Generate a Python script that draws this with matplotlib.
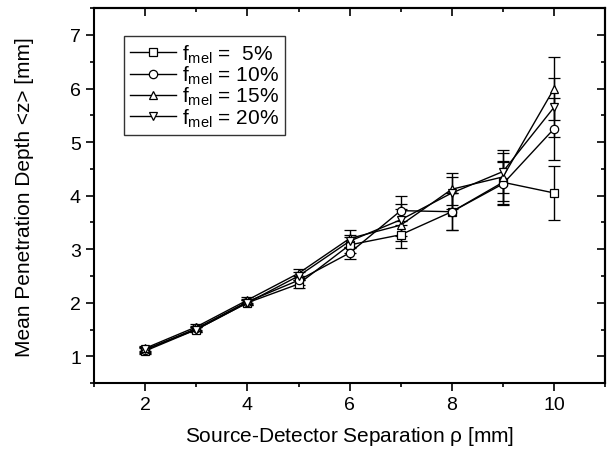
import matplotlib
matplotlib.use('Agg')
import matplotlib.pyplot as plt
from matplotlib.ticker import MultipleLocator

plt.rcParams['font.family'] = ['Liberation Sans', 'DejaVu Sans']
plt.rcParams['mathtext.fontset'] = 'custom'
plt.rcParams['mathtext.rm'] = 'Liberation Sans'
plt.rcParams['mathtext.it'] = 'Liberation Sans'

rho = [2, 3, 4, 5, 6, 7, 8, 9, 10]

depth_5 = [1.10, 1.50, 2.00, 2.35, 3.08, 3.27, 3.70, 4.25, 4.05]
depth_10 = [1.12, 1.52, 2.02, 2.42, 2.93, 3.72, 3.70, 4.22, 5.25]
depth_15 = [1.15, 1.55, 2.05, 2.55, 3.20, 3.45, 4.12, 4.35, 6.00]
depth_20 = [1.13, 1.50, 2.00, 2.50, 3.15, 3.55, 4.05, 4.45, 5.65]

err_5 = [0.05, 0.05, 0.05, 0.08, 0.15, 0.25, 0.35, 0.40, 0.50]
err_10 = [0.05, 0.05, 0.05, 0.08, 0.12, 0.27, 0.35, 0.40, 0.58]
err_15 = [0.05, 0.05, 0.05, 0.08, 0.15, 0.30, 0.30, 0.45, 0.58]
err_20 = [0.05, 0.05, 0.05, 0.08, 0.12, 0.30, 0.30, 0.40, 0.55]

labels = ['5%', '10%', '15%', '20%']
markers = ['s', 'o', '^', 'v']


def main():
    fig = plt.figure(figsize=(6.07, 4.6), dpi=100)
    ax = fig.add_axes([0.155, 0.165, 0.842, 0.815])

    series = [(depth_5, err_5), (depth_10, err_10), (depth_15, err_15), (depth_20, err_20)]
    handles, texts = [], []
    for (y, e), m, lab in zip(series, markers, labels):
        pad = ' ' if len(lab) < 3 else ''
        h = ax.errorbar(
            rho, y, yerr=e, color='black', lw=1.0, marker=m, markersize=6,
            mfc='white', mec='black', mew=0.9, capsize=4, elinewidth=1.0,
            capthick=1.0,
        )
        handles.append(h[0])
        texts.append(r'$\mathregular{f_{mel}}$ = ' + pad + lab)

    ax.set_xlim(1, 11)
    ax.set_ylim(0.5, 7.5)
    ax.xaxis.set_major_locator(MultipleLocator(2))
    ax.xaxis.set_minor_locator(MultipleLocator(1))
    ax.yaxis.set_major_locator(MultipleLocator(1))
    ax.yaxis.set_minor_locator(MultipleLocator(0.5))
    ax.tick_params(which='both', direction='out', top=False, right=False, labelsize=14, width=1.2)
    ax.tick_params(which='major', length=6)
    ax.tick_params(which='minor', length=3)

    # mirrored inward ticks on top/right like the original
    sec_x = ax.secondary_xaxis('top')
    sec_x.xaxis.set_major_locator(MultipleLocator(2))
    sec_x.xaxis.set_minor_locator(MultipleLocator(1))
    sec_x.tick_params(which='both', direction='in', labeltop=False, width=1.2)
    sec_x.tick_params(which='major', length=6)
    sec_x.tick_params(which='minor', length=3)
    sec_y = ax.secondary_yaxis('right')
    sec_y.yaxis.set_major_locator(MultipleLocator(1))
    sec_y.yaxis.set_minor_locator(MultipleLocator(0.5))
    sec_y.tick_params(which='both', direction='in', labelright=False, width=1.2)
    sec_y.tick_params(which='major', length=6)
    sec_y.tick_params(which='minor', length=3)

    for sp in list(ax.spines.values()) + [sec_x.spines['top'], sec_y.spines['right']]:
        sp.set_linewidth(1.5)

    ax.set_xlabel(r'Source-Detector Separation $\mathregular{\rho}$ [mm]', fontsize=15, labelpad=8)
    ax.set_ylabel('Mean Penetration Depth <z> [mm]', fontsize=15, labelpad=26)

    leg = ax.legend(
        handles, texts, loc='upper left', bbox_to_anchor=(0.058, 0.925), fontsize=15,
        frameon=True, fancybox=False, edgecolor='black', handlelength=2.2,
        handletextpad=0.3, labelspacing=-0.05, borderpad=0.3, borderaxespad=0,
    )
    leg.get_frame().set_linewidth(1.0)

    fig.savefig('out.png', dpi=100)
    plt.close(fig)


if __name__ == '__main__':
    main()
